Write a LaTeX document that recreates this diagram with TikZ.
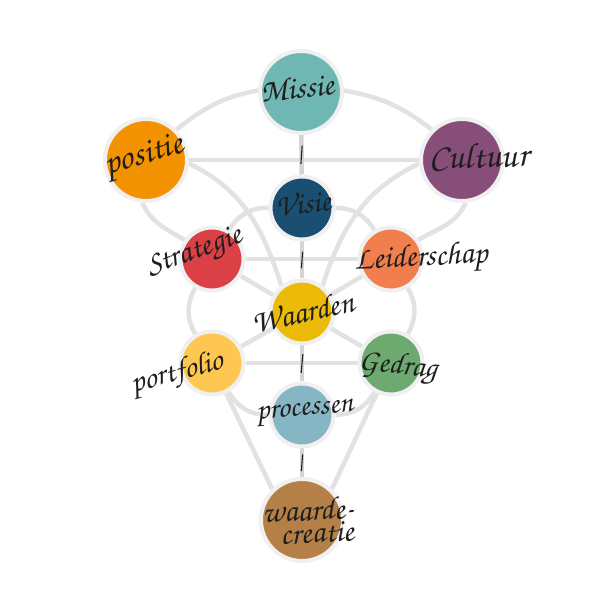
\documentclass[tikz,border=0pt]{standalone}
\usepackage{fontspec}
\newfontfamily\hand{texgyrechorus-mediumitalic.otf}
\usetikzlibrary{backgrounds}
\definecolor{cMissie}{HTML}{6FB7B3}
\definecolor{cpositie}{HTML}{F39200}
\definecolor{cCultuur}{HTML}{874E7A}
\definecolor{cVisie}{HTML}{1B4F72}
\definecolor{cStrategie}{HTML}{DA4045}
\definecolor{cLeiderschap}{HTML}{F07F4D}
\definecolor{cWaarden}{HTML}{ECBB0A}
\definecolor{cportfolio}{HTML}{FDC752}
\definecolor{cGedrag}{HTML}{6DAA70}
\definecolor{cprocessen}{HTML}{86B6C4}
\definecolor{cwaarde}{HTML}{B58048}
\definecolor{rim}{HTML}{F0F0F0}
\definecolor{edgegrey}{HTML}{E2E2E2}
\definecolor{vgrey}{HTML}{D4D4D4}
\definecolor{ink}{HTML}{1E1E1E}
\begin{document}
\begin{tikzpicture}[x=1pt,y=1pt,
  sef/.style={circle, draw=rim, line width=4pt, inner sep=0pt, minimum size=#1},
  big/.style={sef=82pt},
  small/.style={sef=63pt},
  edge/.style={draw=edgegrey, line width=4.5pt},
  vedge/.style={draw=vgrey, line width=4.5pt},
  tickmark/.style={draw=ink, line width=1.1pt, line cap=round},
  lbl/.style={font=\hand\fontsize{#1}{#1}\selectfont, text=ink, inner sep=0pt},
  lbl/.default=31]
\useasboundingbox (0,0) rectangle (600,600);
% sephirot
\node[big, fill=cMissie] (Missie) at (301,508) {};
\node[big, fill=cpositie] (positie) at (146,440) {};
\node[big, fill=cCultuur] (Cultuur) at (462,440) {};
\node[small, fill=cVisie] (Visie) at (302,392) {};
\node[small, fill=cStrategie] (Strategie) at (212,341) {};
\node[small, fill=cLeiderschap] (Leiderschap) at (391,341) {};
\node[small, fill=cWaarden] (Waarden) at (302,288) {};
\node[small, fill=cportfolio] (portfolio) at (212,237) {};
\node[small, fill=cGedrag] (Gedrag) at (391,237) {};
\node[small, fill=cprocessen] (processen) at (302,185) {};
\node[big, fill=cwaarde] (waardecreatie) at (302,80) {};
% connectors
\begin{scope}[on background layer]
\fill[white] (0,0) rectangle (600,600);
\draw[edge] (positie) -- (Cultuur);
\draw[edge] (Strategie) -- (Leiderschap);
\draw[edge] (portfolio) -- (Gedrag);
\draw[edge] (positie.45) to[out=38,in=190] (Missie.178);
\draw[edge] (Missie.2) to[out=-10,in=142] (Cultuur.135);
\draw[edge] (positie.265) to[out=-65,in=150] (Strategie.145);
\draw[edge] (Cultuur.275) to[out=245,in=30] (Leiderschap.35);
\draw[edge] (positie.-5) to[out=-25,in=108] (Waarden.128);
\draw[edge] (Cultuur.185) to[out=205,in=72] (Waarden.52);
\draw[edge] (Strategie) -- (Waarden);
\draw[edge] (Leiderschap) -- (Waarden);
\draw[edge] (portfolio) -- (Waarden);
\draw[edge] (Gedrag) -- (Waarden);
\draw[edge] (portfolio.-65) -- (waardecreatie.134);
\draw[edge] (Gedrag.245) -- (waardecreatie.46);
\draw[edge] (Visie) to[bend right=30] (Strategie);
\draw[edge] (Strategie) to[bend right=30] (portfolio);
\draw[edge] (portfolio) to[bend right=30] (processen);
\draw[edge] (processen) to[bend right=30] (Gedrag);
\draw[edge] (Gedrag) to[bend right=30] (Leiderschap);
\draw[edge] (Leiderschap) to[bend right=30] (Visie);
\draw[vedge] (Missie) -- (Visie) coordinate[midway] (t1);
\draw[vedge] (Visie) -- (Waarden) coordinate[midway] (t2);
\draw[vedge] (Waarden) -- (processen) coordinate[midway] (t3);
\draw[vedge] (processen) -- (waardecreatie) coordinate[midway] (t4);
\end{scope}
% hand-drawn ticks
\draw[tickmark] ([shift={(0.6,9)}]t1) -- ([shift={(-0.6,-9)}]t1);
\draw[tickmark] ([shift={(0.6,8)}]t2) -- ([shift={(-0.6,-8)}]t2);
\draw[tickmark] ([shift={(0.8,9)}]t3) -- ([shift={(-0.8,-9)}]t3);
\draw[tickmark] ([shift={(0.6,8)}]t4) -- ([shift={(-0.6,-8)}]t4);
% labels
\node[lbl=32, rotate=6] (lMissie) at (297,512) {Missie};
\node[lbl=35, rotate=16] (lpositie) at (144,443) {positie};
\node[lbl=36, rotate=2] (lCultuur) at (479,443) {Cultuur};
\node[lbl=31, rotate=6] (lVisie) at (303,397) {Visie};
\node[lbl=32, rotate=20] (lStrategie) at (195,347) {Strategie};
\node[lbl=32, rotate=3] (lLeiderschap) at (421,341) {Leiderschap};
\node[lbl=32, rotate=12] (lWaarden) at (303,288) {Waarden};
\node[lbl=31, rotate=15] (lportfolio) at (177,226) {portfolio};
\node[lbl=31, rotate=-6] (lGedrag) at (398,233) {Gedrag};
\node[lbl=30, rotate=5] (lprocessen) at (305,187) {processen};
\node[lbl=32, rotate=3] (lwaarde) at (308,90) {waarde-};
\node[lbl=32, rotate=3] (lcreatie) at (317,67) {creatie};
\end{tikzpicture}
\end{document}
